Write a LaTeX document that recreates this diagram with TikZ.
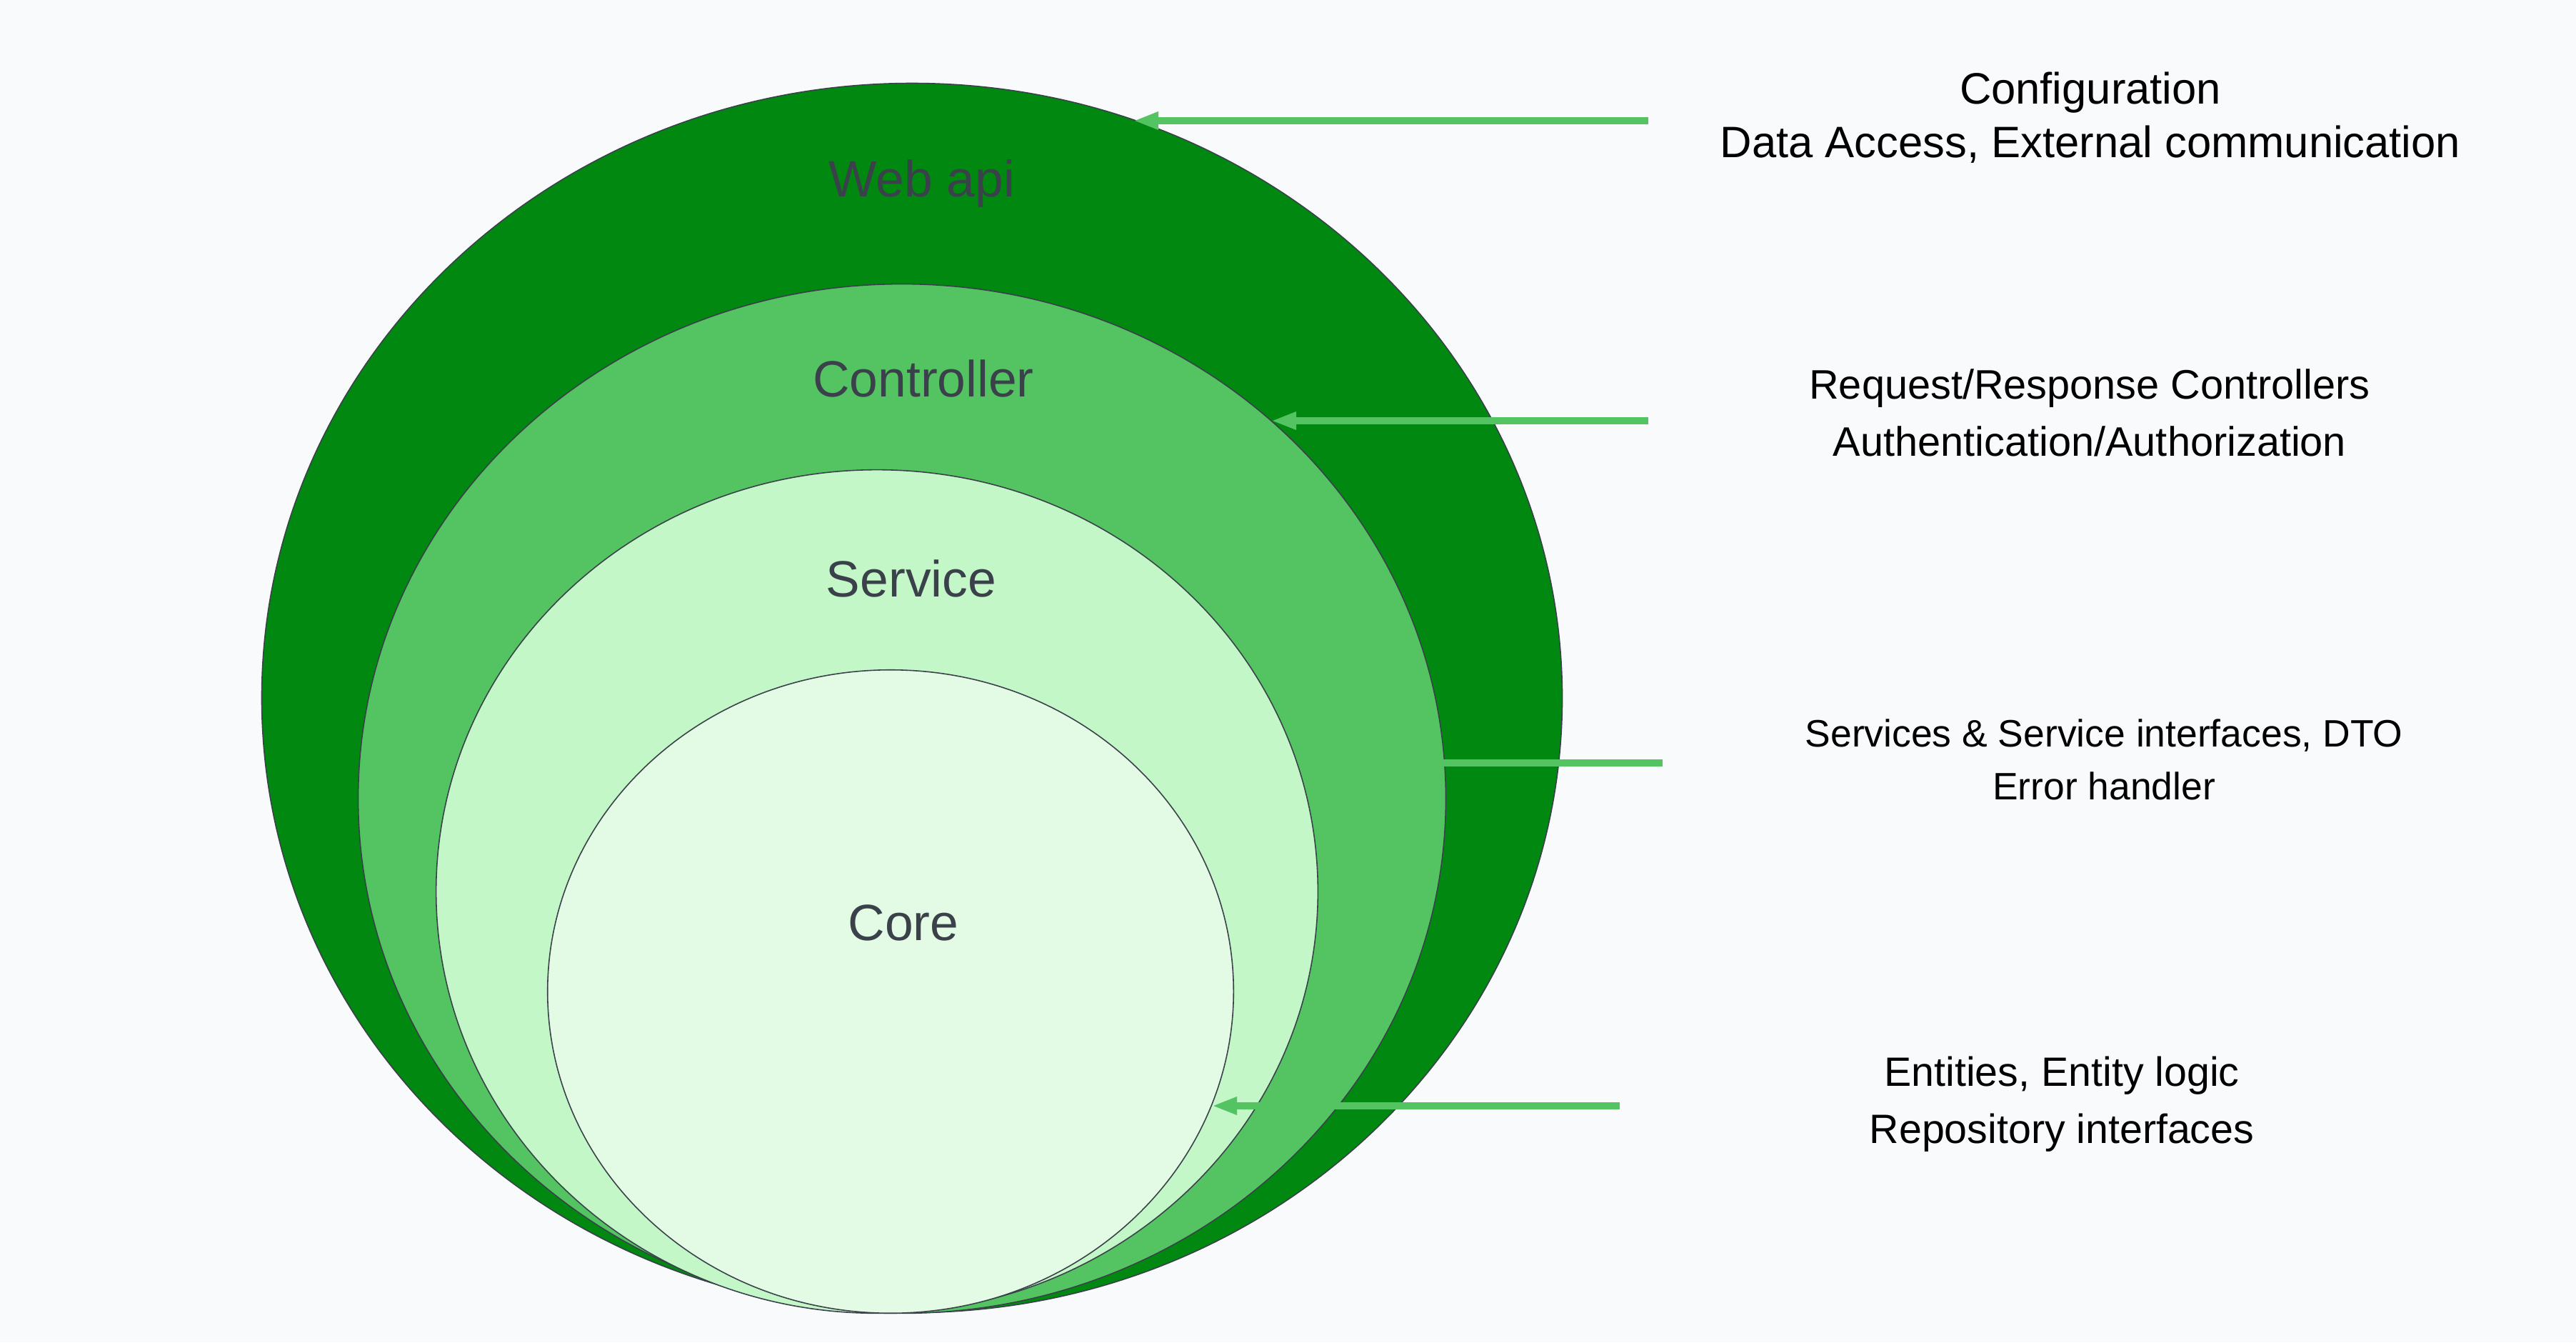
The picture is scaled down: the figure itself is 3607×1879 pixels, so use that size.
\documentclass[tikz,border=0pt]{standalone}
\usepackage{fontspec}
\setmainfont{Liberation Sans}
\usetikzlibrary{arrows.meta,shapes.geometric}
\definecolor{bg}{RGB}{249,250,252}
\definecolor{webc}{RGB}{0,136,16}
\definecolor{ctrlc}{RGB}{84,196,98}
\definecolor{svcc}{RGB}{195,247,200}
\definecolor{corec}{RGB}{227,251,228}
\definecolor{edgec}{RGB}{58,65,74}
\begin{document}
\begin{tikzpicture}[x=0.01cm,y=-0.01cm,
  layer/.style={ellipse, draw=edgec, line width=0.45pt, inner sep=0pt, outer sep=0pt},
  ringlabel/.style={anchor=base, inner sep=0pt, text=edgec, font=\fontsize{20.3pt}{24pt}\selectfont},
  note/.style={anchor=base, inner sep=0pt, text=black},
  pointer/.style={draw=ctrlc, line width=0.1cm, -{Triangle[length=0.35cm,width=0.23cm]}}]
  \fill[bg] (0,0) rectangle (3607,1879);
  \useasboundingbox (0,0) rectangle (3607,1879);
  % layers
  \node[layer, fill=webc,  minimum width=18.20cm, minimum height=17.20cm] (web)  at (1277,977)  {};
  \node[layer, fill=ctrlc, minimum width=15.22cm, minimum height=14.40cm] (ctrl) at (1263,1118) {};
  \node[layer, fill=svcc,  minimum width=12.34cm, minimum height=11.80cm] (svc)  at (1228,1248) {};
  \node[layer, fill=corec, minimum width=9.60cm,  minimum height=9.00cm]  (core) at (1247,1388) {};
  % layer labels
  \node[ringlabel] (lweb)  at (1291,275)  {Web api};
  \node[ringlabel] (lctrl) at (1293,555)  {Controller};
  \node[ringlabel] (lsvc)  at (1276,835)  {Service};
  \node[ringlabel] (lcore) at (1265,1316) {Core};
  % descriptions
  \node[note, font=\fontsize{17.5pt}{21pt}\selectfont] (d1a) at (2927,146) {Configuration};
  \node[note, font=\fontsize{17.5pt}{21pt}\selectfont] (d1b) at (2927,221) {Data Access, External communication};
  \node[note, font=\fontsize{16.4pt}{20pt}\selectfont] (d2a) at (2926,558) {Request/Response Controllers};
  \node[note, font=\fontsize{16.4pt}{20pt}\selectfont] (d2b) at (2926,638) {Authentication/Authorization};
  \node[note, font=\fontsize{15.2pt}{18pt}\selectfont] (d3a) at (2946,1045) {Services \& Service interfaces, DTO};
  \node[note, font=\fontsize{15.2pt}{18pt}\selectfont] (d3b) at (2946,1119) {Error handler};
  \node[note, font=\fontsize{16.3pt}{20pt}\selectfont] (d4a) at (2887,1520) {Entities, Entity logic};
  \node[note, font=\fontsize{16.3pt}{20pt}\selectfont] (d4b) at (2887,1600) {Repository interfaces};
  % connector ends
  \coordinate (s1) at (2308,169);  \coordinate (e1) at (1587,169);
  \coordinate (s2) at (2308,589);  \coordinate (e2) at (1780,589);
  \coordinate (s3) at (2328,1068); \coordinate (e3) at (1815,1068);
  \coordinate (s4) at (2268,1548); \coordinate (e4) at (1697,1548);
  \draw[pointer] (s1) -- (e1);
  \draw[pointer] (s2) -- (e2);
  \draw[pointer] (s3) -- (e3);
  \draw[pointer] (s4) -- (e4);
\end{tikzpicture}
\end{document}
